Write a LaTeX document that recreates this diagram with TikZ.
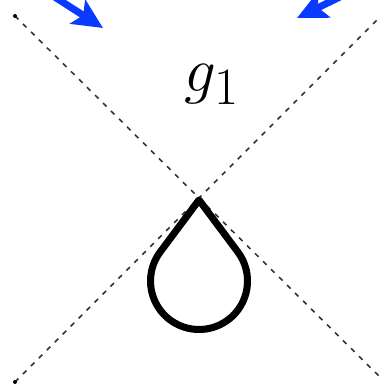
\documentclass[tikz,border=0pt]{standalone}
\usetikzlibrary{arrows.meta}
\definecolor{flowBlue}{RGB}{10,58,255}
\tikzset{
    guide/.style={draw=black!80,line width=0.45pt,dash pattern=on 1.4pt off 1.8pt},
    loopline/.style={draw=black,line width=2pt,line join=round},
    flow/.style={-{Stealth[length=8.5pt,width=8pt,inset=1.8pt]},draw=flowBlue,line width=2pt},
    lbl/.style={font=\Huge,scale=0.72,inner sep=0pt}
}
\begin{document}
\begin{tikzpicture}[x=0.01cm,y=-0.01cm]
    \useasboundingbox (0,0) rectangle (380,385);
    \clip (0,0) rectangle (380,385);

    % the two dashed guides crossing at the vertex
    \coordinate (tl) at (15,16);
    \coordinate (bl) at (15,382);
    \coordinate (br) at (383,380);
    \coordinate (tr) at (383,14);
    \coordinate (vtx) at (199,200);
    \draw[guide] (tl) -- (br);
    \draw[guide] (bl) -- (tr);
    \fill (tl) circle[radius=2];
    \fill (bl) circle[radius=2];

    % label
    \node[lbl,anchor=base] (gone) at (212,92) {$g_1$};

    % tadpole loop hanging from the vertex
    \draw[loopline] (vtx) -- (237.8,251.9) arc[start angle=-36.9,end angle=216.9,radius=48.5] -- cycle;

    % incoming arrows
    \coordinate (srcL) at (50,-6);
    \coordinate (tipL) at (103,28);
    \coordinate (srcR) at (346,-6);
    \coordinate (tipR) at (297,18);
    \draw[flow] (srcL) -- (tipL);
    \draw[flow] (srcR) -- (tipR);
\end{tikzpicture}
\end{document}
